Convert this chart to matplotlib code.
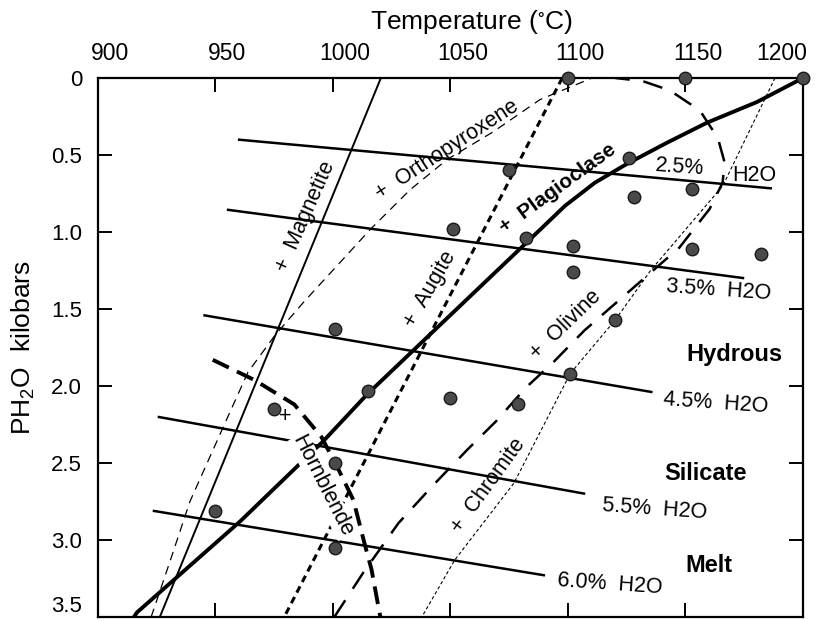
import matplotlib.pyplot as plt
from matplotlib.transforms import ScaledTranslation

plt.rcParams['font.family'] = ['Liberation Sans', 'DejaVu Sans']
plt.rcParams['mathtext.default'] = 'regular'

#### DATA ####

temp_ticks = [900, 950, 1000, 1050, 1100, 1150, 1200]
p_ticks = [0, 0.5, 1.0, 1.5, 2.0, 2.5, 3.0, 3.5]
p_labels = ['0', '0.5', '1.0', '1.5', '2.0', '2.5', '3.0', '3.5']

# experimental runs (deg C, kbar)
run_t = [1100, 1150, 1200, 1075, 1126, 1128, 1153, 1051, 1082, 1102, 1102, 1153,
         1182, 1120, 1101, 1050, 1079, 975, 1015, 1001, 950, 1001, 1001]
run_p = [0.0, 0.0, 0.0, 0.60, 0.52, 0.77, 0.72, 0.98, 1.04, 1.09, 1.26, 1.11,
         1.14, 1.57, 1.92, 2.08, 2.12, 2.15, 2.03, 2.50, 2.81, 3.05, 1.63]

# water isopleths
iso_names = ['2.5%', '3.5%', '4.5%', '5.5%', '6.0%']
iso_t = [[959.7, 1186.8], [955.0, 1175.0], [945.0, 1136.0], [925.6, 1107.4], [923.5, 1090.3]]
iso_p = [[0.40, 0.717], [0.855, 1.30], [1.54, 2.04], [2.20, 2.70], [2.81, 3.23]]

# mineral-in curves
magnetite_t = [1020.5, 926.5]
magnetite_p = [0.0, 3.5]

augite_t = [1097.6, 979.4]
augite_p = [0.0, 3.5]

opx_t = [922.8, 930.8, 939.3, 947.8, 956.3, 964.0, 975.5, 987.4, 1001.8, 1015.9,
         1032.9, 1048.6, 1068.2, 1088.2, 1110.3]
opx_p = [3.50, 3.14, 2.75, 2.46, 2.17, 1.91, 1.67, 1.46, 1.22, 0.985,
         0.726, 0.53, 0.35, 0.14, 0.0]

plag_t = [1200.0, 1180.4, 1159.2, 1142.2, 1125.2, 1111.5, 1098.8, 1088.2, 1014.6,
          995.9, 960.6, 916.8, 915.5]
plag_p = [0.0, 0.156, 0.29, 0.42, 0.557, 0.68, 0.83, 0.985, 2.055,
          2.36, 2.88, 3.47, 3.5]

olivine_t = [1000.7, 1013.1, 1028.0, 1043.0, 1057.5, 1069.4, 1082.2, 1094.2, 1107.0, 1147.5,
             1160.3, 1165.8, 1166.7, 1163.8, 1156.1, 1143.3, 1131.8, 1120.2]
olivine_p = [3.50, 3.21, 2.89, 2.64, 2.41, 2.23, 2.01, 1.84, 1.64, 1.10,
             0.85, 0.68, 0.55, 0.39, 0.21, 0.08, 0.02, 0.0]

chromite_t = [1188.1, 1165.9, 1135.2, 1120.2, 1101.0, 1077.1, 1051.9, 1037.9]
chromite_p = [0.0, 0.70, 1.25, 1.57, 1.92, 2.63, 3.13, 3.50]

hbl_t = [949.0, 966.6, 983.7, 995.2, 1002.4, 1008.8, 1013.5, 1016.5, 1019.9, 1020.3]
hbl_p = [1.83, 1.96, 2.12, 2.33, 2.54, 2.74, 3.02, 3.19, 3.47, 3.5]


#### FIGURE ####

fig = plt.figure(figsize=(8.23, 6.21), dpi=100)
ax = fig.add_axes([97.5 / 823, 4 / 621, 705.5 / 823, 539 / 621])
ax.set_xlim(900, 1200)
ax.set_ylim(3.5, 0)

# isopleths
for t, p in zip(iso_t, iso_p):
    ax.plot(t, p, color='black', lw=1.8, solid_capstyle='butt')

ax.plot(magnetite_t, magnetite_p, color='black', lw=1.4)
ax.plot(opx_t, opx_p, color='black', lw=0.9, dashes=(7, 5))
ax.plot(augite_t, augite_p, color='black', lw=2.2, dashes=(2.3, 1.6))
ax.plot(plag_t, plag_p, color='black', lw=2.8, solid_joinstyle='round')
ax.plot(olivine_t, olivine_p, color='black', lw=1.8, dashes=(8, 5.5))
ax.plot(chromite_t, chromite_p, color='black', lw=0.8, dashes=(3, 2.2))
ax.plot(hbl_t, hbl_p, color='black', lw=2.8, dashes=(4.6, 2.3))

ax.plot(run_t, run_p, 'o', ms=9, mfc='#4a4a4a', mec='#1a1a1a', mew=1.0,
        clip_on=False, zorder=5)

# curve labels
lab = dict(ha='center', va='center', rotation_mode='anchor')
ax.text(988.6, 0.90, '+  Magnetite', rotation=66, fontsize=15.5, **lab)
ax.text(1048.5, 0.47, '+  Orthopyroxene', rotation=33, fontsize=15.5, **lab)
ax.text(1041.6, 1.37, '+  Augite', rotation=60, fontsize=15.5, **lab)
ax.text(1095.5, 0.72, '+  Plagioclase', rotation=36, fontsize=15, fontweight='bold', **lab)
ax.text(1099.0, 1.60, '+  Olivine', rotation=44, fontsize=15.5, **lab)
ax.text(1066.0, 2.65, '+  Chromite', rotation=54, fontsize=15.5, **lab)
ax.text(980.0, 2.20, '+', fontsize=15.5, **lab)
ax.text(995.7, 2.65, 'Hornblende', rotation=-63, fontsize=15.5, zorder=4,
        bbox=dict(facecolor='white', edgecolor='none', pad=0.5), **lab)

# isopleth labels
ax.text(1147.5, 0.58, '2.5%', rotation=-4, fontsize=15.5, **lab)
ax.text(1179.5, 0.63, 'H2O', fontsize=15.5, **lab)
iso_lab_t = [1164.0, 1163.0, 1137.0, 1117.7]
iso_lab_p = [1.38, 2.11, 2.80, 3.29]
for name, t, p in zip(iso_names[1:], iso_lab_t, iso_lab_p):
    ax.text(t, p, name + '  H2O', rotation=-4, fontsize=15.5, **lab)

# field name
ax.text(1171, 1.84, 'Hydrous', fontsize=17, fontweight='bold', ha='center', va='baseline')
ax.text(1158.6, 2.61, 'Silicate', fontsize=17, fontweight='bold', ha='center', va='baseline')
ax.text(1160, 3.21, 'Melt', fontsize=17, fontweight='bold', ha='center', va='baseline')

# axes styling
ax.xaxis.set_ticks_position('both')
ax.set_xticks(temp_ticks)
ax.set_yticks(p_ticks)
ax.set_yticklabels(p_labels)
ax.tick_params(axis='x', direction='in', length=10, width=1.4, labeltop=True,
               labelbottom=False, labelsize=16.5, pad=9)
ax.tick_params(axis='y', direction='in', length=10, width=1.4, right=True,
               labelsize=16, pad=11)
ax.get_yticklabels()[-1].set_va('bottom')

# the printed temperature labels sit a little right of their ticks
for i, tick in enumerate(ax.xaxis.get_major_ticks()):
    dx = -21 if i == len(temp_ticks) - 1 else 12
    tick.label2.set_transform(tick.label2.get_transform()
                              + ScaledTranslation(dx / 100, 0, fig.dpi_scale_trans))

for sp in ax.spines.values():
    sp.set_linewidth(1.6)

ax.set_ylabel('PH$_2$O  kilobars', fontsize=19, labelpad=10)
fig.text(471 / 823, 1 - 22 / 621, 'Temperature ($^{\\circ}$C)', fontsize=19,
         ha='center', va='center')

fig.savefig('out.png', dpi=100)
